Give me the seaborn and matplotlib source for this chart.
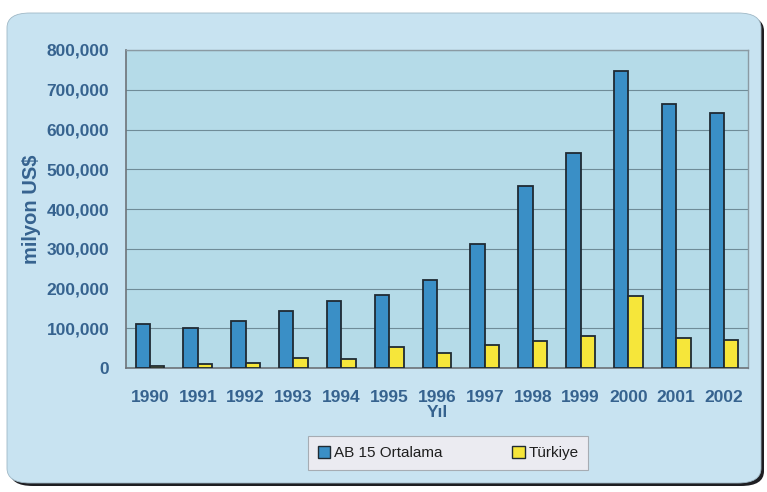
import matplotlib
matplotlib.use("Agg")
import matplotlib.pyplot as plt
from matplotlib.patches import FancyBboxPatch, Patch
from matplotlib.ticker import FuncFormatter, FixedLocator
import numpy as np
import pandas as pd
import seaborn as sns

# Yearly values, million US$
years = ["1990", "1991", "1992", "1993", "1994", "1995", "1996",
         "1997", "1998", "1999", "2000", "2001", "2002"]
ab15_avg = [111000, 101000, 118000, 143000, 169000, 184000, 221000,
            313000, 459000, 541000, 747000, 663000, 642000]
turkiye = [6000, 10000, 13000, 24000, 22000, 53000, 38000,
           58000, 69000, 81000, 182000, 76000, 71000]
series_names = ["AB 15 Ortalama", "Türkiye"]
y_ticks = [0, 100000, 200000, 300000, 400000, 500000, 600000, 700000, 800000]

df = pd.DataFrame({
    "Yıl": years * 2,
    "Değer": ab15_avg + turkiye,
    "Seri": [series_names[0]] * len(years) + [series_names[1]] * len(years),
})

sns.set_theme(style="white")
plt.rcParams["font.family"] = ["Liberation Sans", "DejaVu Sans"]

text_col = "#36638f"
bar_cols = {series_names[0]: "#3a8fc6", series_names[1]: "#f6e63a"}

fig = plt.figure(figsize=(7.67, 4.92), dpi=100)
fig.patch.set_facecolor("white")

# rounded card with a dark drop edge, kept behind the axes
W, H = 767.0, 492.0
shadow = FancyBboxPatch((10 / W, 6 / H), 754 / W, 470 / H,
                        boxstyle="round,pad=0,rounding_size=0.03",
                        transform=fig.transFigure, facecolor="#1e1e22",
                        edgecolor="none", zorder=-3)
card = FancyBboxPatch((7 / W, 9 / H), 754 / W, 470 / H,
                      boxstyle="round,pad=0,rounding_size=0.03",
                      transform=fig.transFigure, facecolor="#c8e3f1",
                      edgecolor="#9fb8c6", linewidth=0.6, zorder=-2)
fig.patches.extend([shadow, card])

ax = fig.add_axes([126 / W, 1 - 368 / H, 622 / W, 318 / H])
ax.set_zorder(1)
ax.set_facecolor("#b5dbe8")

sns.barplot(data=df, x="Yıl", y="Değer", hue="Seri", palette=bar_cols,
            saturation=1, width=0.6, edgecolor="#1f2a33", linewidth=1.3,
            ax=ax, legend=False, zorder=3)

ax.set_ylim(0, 800000)
ax.set_xlim(-0.5, len(years) - 0.5)
ax.set_yticks(y_ticks)
ax.yaxis.set_major_formatter(FuncFormatter(lambda v, p: f"{v:,.0f}"))
ax.grid(axis="y", color="#6f8c98", linewidth=0.8, zorder=1)
ax.set_axisbelow(True)

for side in ["top", "right"]:
    ax.spines[side].set_color("#8a9aa3")
    ax.spines[side].set_linewidth(1.0)
for side in ["left", "bottom"]:
    ax.spines[side].set_color("#6d7378")
    ax.spines[side].set_linewidth(1.2)

ax.tick_params(axis="y", which="major", length=6, width=0.9, color="#6d7378",
               pad=6, labelsize=12.5, labelcolor=text_col, direction="out")
ax.tick_params(axis="x", which="major", length=0, pad=16,
               labelsize=12.5, labelcolor=text_col)
ax.xaxis.set_minor_locator(FixedLocator(np.arange(-0.5, len(years), 1.0)))
ax.tick_params(axis="x", which="minor", length=5, width=0.9,
               color="#6d7378", direction="out")
for lab in ax.get_xticklabels() + ax.get_yticklabels():
    lab.set_fontweight("bold")

ax.set_xlabel("Yıl", fontsize=12.5, fontweight="bold", color=text_col,
              labelpad=0)
ax.set_ylabel("milyon US$", fontsize=14.5, fontweight="bold",
              color=text_col, labelpad=4)

handles = [Patch(facecolor=bar_cols[n], edgecolor="#1f2a33", linewidth=1.0,
                 label=n) for n in series_names]
leg = fig.legend(handles=handles, loc="center",
                 bbox_to_anchor=(448 / W, 1 - 453 / H), ncol=2,
                 frameon=True, fancybox=False, fontsize=11,
                 handlelength=0.8, handleheight=0.8, handletextpad=0.25,
                 columnspacing=4.6, borderpad=0.65, labelcolor="#1f1f1f")
leg.get_frame().set_facecolor("#f4eef2")
leg.get_frame().set_edgecolor("#9a9ea4")
leg.get_frame().set_linewidth(0.8)
leg.set_zorder(2)

fig.savefig("out.png", dpi=100)
